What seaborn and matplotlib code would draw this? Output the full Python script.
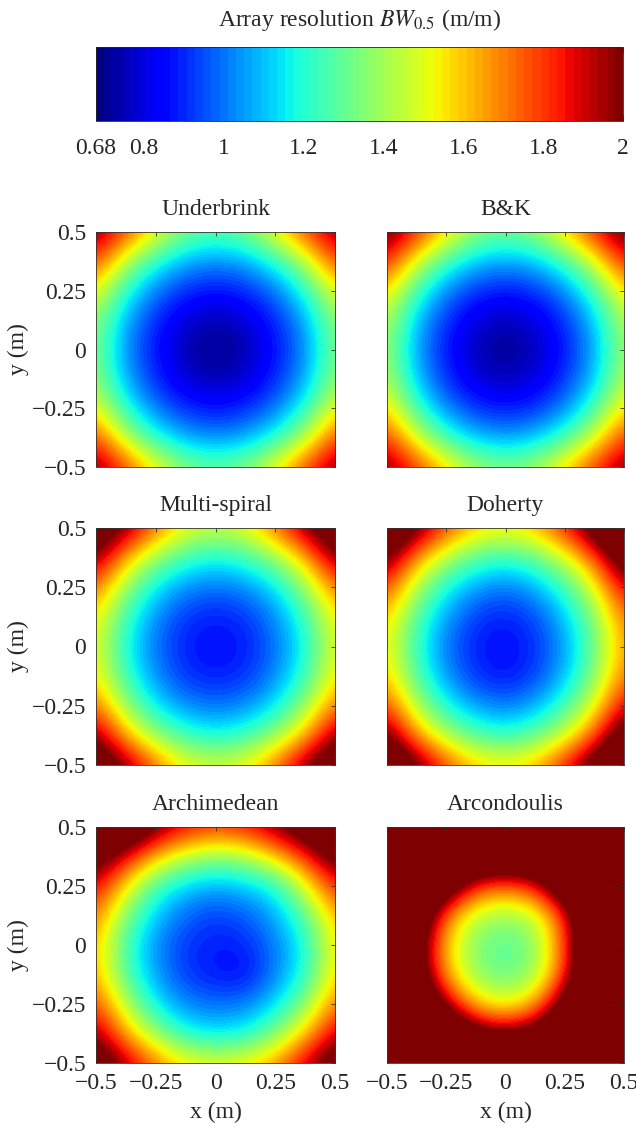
import numpy as np
import matplotlib
matplotlib.use("Agg")
import matplotlib.pyplot as plt
import seaborn as sns

# grid points: x, y = -0.5 ... 0.5 step 0.125 ; rows go from y=+0.5 (top) to y=-0.5 (bottom)
grid_pts = [-0.5, -0.375, -0.25, -0.125, 0.0, 0.125, 0.25, 0.375, 0.5]

underbrink = [
    [2.00, 1.78, 1.53, 1.33, 1.28, 1.33, 1.53, 1.78, 1.98],
    [1.78, 1.43, 1.20, 1.07, 1.03, 1.07, 1.20, 1.43, 1.78],
    [1.53, 1.20, 1.00, 0.90, 0.86, 0.90, 1.00, 1.20, 1.53],
    [1.38, 1.07, 0.90, 0.78, 0.74, 0.78, 0.90, 1.07, 1.38],
    [1.35, 1.03, 0.86, 0.74, 0.69, 0.74, 0.86, 1.03, 1.35],
    [1.38, 1.07, 0.90, 0.78, 0.74, 0.78, 0.90, 1.07, 1.38],
    [1.53, 1.20, 1.00, 0.90, 0.86, 0.90, 1.00, 1.20, 1.53],
    [1.78, 1.43, 1.20, 1.07, 1.03, 1.07, 1.20, 1.43, 1.78],
    [2.00, 1.78, 1.53, 1.35, 1.30, 1.35, 1.53, 1.78, 2.00],
]

bk = [
    [2.05, 1.83, 1.58, 1.38, 1.32, 1.38, 1.58, 1.83, 2.05],
    [1.83, 1.48, 1.24, 1.10, 1.06, 1.10, 1.24, 1.48, 1.83],
    [1.58, 1.24, 1.02, 0.91, 0.87, 0.91, 1.02, 1.24, 1.58],
    [1.43, 1.10, 0.91, 0.79, 0.75, 0.79, 0.91, 1.10, 1.43],
    [1.40, 1.06, 0.87, 0.75, 0.70, 0.75, 0.87, 1.06, 1.40],
    [1.43, 1.10, 0.91, 0.79, 0.75, 0.79, 0.91, 1.10, 1.43],
    [1.58, 1.24, 1.02, 0.91, 0.87, 0.91, 1.02, 1.24, 1.58],
    [1.80, 1.48, 1.24, 1.10, 1.06, 1.10, 1.24, 1.48, 1.80],
    [2.00, 1.80, 1.58, 1.40, 1.34, 1.40, 1.58, 1.80, 2.00],
]

multi_spiral = [
    [2.20, 2.00, 1.72, 1.52, 1.46, 1.52, 1.72, 2.00, 2.20],
    [2.00, 1.62, 1.38, 1.23, 1.18, 1.23, 1.38, 1.62, 2.00],
    [1.72, 1.38, 1.14, 1.03, 0.99, 1.03, 1.14, 1.38, 1.72],
    [1.56, 1.23, 1.03, 0.91, 0.88, 0.91, 1.03, 1.23, 1.56],
    [1.52, 1.18, 0.99, 0.88, 0.85, 0.88, 0.99, 1.18, 1.52],
    [1.56, 1.23, 1.03, 0.91, 0.88, 0.91, 1.03, 1.23, 1.56],
    [1.72, 1.38, 1.14, 1.03, 0.99, 1.03, 1.14, 1.38, 1.72],
    [2.00, 1.62, 1.38, 1.23, 1.18, 1.23, 1.38, 1.62, 2.00],
    [2.20, 2.00, 1.72, 1.52, 1.48, 1.52, 1.72, 2.00, 2.20],
]

doherty = [
    [2.30, 2.05, 1.78, 1.60, 1.55, 1.62, 1.83, 2.13, 2.42],
    [2.05, 1.66, 1.42, 1.27, 1.22, 1.29, 1.47, 1.74, 2.17],
    [1.78, 1.42, 1.18, 1.05, 1.00, 1.07, 1.23, 1.50, 1.90],
    [1.60, 1.27, 1.05, 0.92, 0.88, 0.94, 1.10, 1.35, 1.72],
    [1.55, 1.22, 1.00, 0.88, 0.85, 0.90, 1.05, 1.30, 1.67],
    [1.60, 1.27, 1.04, 0.91, 0.86, 0.93, 1.09, 1.35, 1.72],
    [1.78, 1.42, 1.18, 1.05, 1.00, 1.07, 1.23, 1.50, 1.90],
    [2.05, 1.66, 1.42, 1.27, 1.22, 1.29, 1.47, 1.74, 2.17],
    [2.30, 2.05, 1.78, 1.60, 1.55, 1.62, 1.83, 2.13, 2.42],
]

archimedean = [
    [2.38, 2.32, 2.03, 1.88, 1.82, 1.86, 2.00, 2.16, 2.35],
    [2.12, 1.87, 1.61, 1.44, 1.36, 1.42, 1.59, 1.82, 2.09],
    [1.89, 1.55, 1.24, 1.11, 1.07, 1.10, 1.19, 1.50, 1.84],
    [1.72, 1.34, 1.10, 0.98, 0.92, 0.97, 1.07, 1.28, 1.64],
    [1.62, 1.24, 1.03, 0.91, 0.88, 0.89, 1.01, 1.18, 1.57],
    [1.64, 1.27, 1.05, 0.92, 0.87, 0.85, 1.02, 1.20, 1.59],
    [1.78, 1.43, 1.15, 1.02, 0.99, 1.01, 1.13, 1.36, 1.72],
    [1.98, 1.63, 1.38, 1.18, 1.14, 1.17, 1.34, 1.59, 1.93],
    [2.18, 1.95, 1.71, 1.56, 1.51, 1.55, 1.67, 1.92, 2.14],
]

arcondoulis = [
    [2.60, 2.60, 2.60, 2.60, 2.60, 2.60, 2.60, 2.60, 2.60],
    [2.60, 2.60, 2.50, 2.38, 2.35, 2.38, 2.50, 2.60, 2.60],
    [2.60, 2.50, 2.20, 1.80, 1.72, 1.82, 2.25, 2.60, 2.60],
    [2.60, 2.30, 1.70, 1.43, 1.38, 1.44, 1.80, 2.45, 2.60],
    [2.60, 2.15, 1.58, 1.34, 1.27, 1.35, 1.75, 2.45, 2.60],
    [2.60, 2.20, 1.62, 1.37, 1.30, 1.38, 1.78, 2.45, 2.60],
    [2.60, 2.40, 1.95, 1.58, 1.48, 1.62, 2.10, 2.60, 2.60],
    [2.60, 2.60, 2.40, 2.10, 2.00, 2.10, 2.40, 2.60, 2.60],
    [2.60, 2.60, 2.60, 2.60, 2.60, 2.60, 2.60, 2.60, 2.60],
]

titles = ["Underbrink", "B&K", "Multi-spiral", "Doherty", "Archimedean", "Arcondoulis"]
fields = [underbrink, bk, multi_spiral, doherty, archimedean, arcondoulis]

axis_ticks = [-0.5, -0.25, 0, 0.25, 0.5]
axis_ticklabels = ["\u22120.5", "\u22120.25", "0", "0.25", "0.5"]
cbar_ticks = [0.68, 0.8, 1, 1.2, 1.4, 1.6, 1.8, 2]
cbar_ticklabels = ["0.68", "0.8", "1", "1.2", "1.4", "1.6", "1.8", "2"]
vmin, vmax = 0.68, 2.0

sns.set_theme(style="white")
plt.rcParams["font.family"] = ["Liberation Serif", "DejaVu Serif"]
plt.rcParams["mathtext.fontset"] = "stix"
FS = 17

cmap = plt.get_cmap("jet", 64)

W, H = 636, 1133
fig = plt.figure(figsize=(W / 100, H / 100), dpi=100)


def px_axes(x0, y0, x1, y1):
    return fig.add_axes([x0 / W, 1 - y1 / H, (x1 - x0) / W, (y1 - y0) / H])


rows = [(232, 467), (528, 765), (827, 1063)]
cols = [(96, 335), (387, 624)]

half = 0.125 / 2
extent = (grid_pts[0] - half, grid_pts[-1] + half, grid_pts[0] - half, grid_pts[-1] + half)

im = None
for k, (title, field) in enumerate(zip(titles, fields)):
    r, c = divmod(k, 2)
    ax = px_axes(cols[c][0], rows[r][0], cols[c][1], rows[r][1])
    im = ax.imshow(np.array(field), cmap=cmap, vmin=vmin, vmax=vmax, extent=extent,
                   origin="upper", interpolation="bicubic", interpolation_stage="data",
                   aspect="auto")
    ax.set_xlim(-0.5, 0.5)
    ax.set_ylim(-0.5, 0.5)
    ax.set_title(title, fontsize=FS, pad=12)
    ax.set_xticks(axis_ticks)
    ax.set_yticks(axis_ticks)
    ax.tick_params(direction="in", length=3, width=0.6, top=True, right=True,
                   labelsize=FS, pad=7, color="0.2")
    ax.grid(False)
    for s in ax.spines.values():
        s.set_linewidth(0.6)
        s.set_color("0.2")
    if c == 0:
        ax.set_yticklabels(axis_ticklabels)
        ax.set_ylabel("y (m)", fontsize=FS, labelpad=2)
    else:
        ax.set_yticklabels([])
    if r == 2:
        ax.set_xticklabels(axis_ticklabels)
        ax.set_xlabel("x (m)", fontsize=FS, labelpad=6)
    else:
        ax.set_xticklabels([])

# colorbar on top
cax = px_axes(96, 47, 623, 121)
cbar = fig.colorbar(im, cax=cax, orientation="horizontal")
cbar.set_ticks(cbar_ticks)
cbar.set_ticklabels(cbar_ticklabels)
cbar.outline.set_linewidth(0.6)
cax.tick_params(axis="x", direction="in", top=True, bottom=True, length=4, width=0.6,
                labelsize=FS, pad=12, color="0.2")
fig.text((96 + 623) / 2 / W, 1 - 20 / H, r"Array resolution $BW_{0.5}$ (m/m)",
         ha="center", va="center", fontsize=FS)

fig.savefig("out.png", dpi=100)
